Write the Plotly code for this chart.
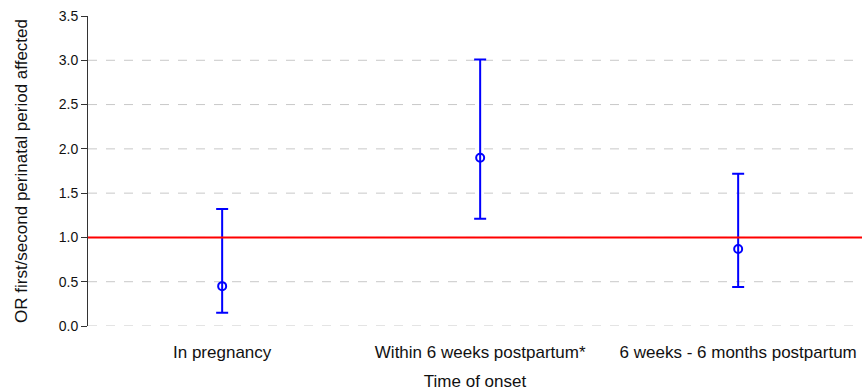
import plotly.graph_objects as go

categories = ["In pregnancy", "Within 6 weeks postpartum*", "6 weeks - 6 months postpartum"]
odds_ratio = [0.45, 1.90, 0.87]
ci_lower = [0.15, 1.21, 0.44]
ci_upper = [1.32, 3.01, 1.72]
y_ticks = [0.0, 0.5, 1.0, 1.5, 2.0, 2.5, 3.0, 3.5]
grid_vals = [0.0, 0.5, 1.0, 1.5, 2.0, 2.5, 3.0]
ref_value = 1.0

x_pos = list(range(len(categories)))
err_plus = [u - m for u, m in zip(ci_upper, odds_ratio)]
err_minus = [m - l for m, l in zip(odds_ratio, ci_lower)]

fig = go.Figure()

for g in grid_vals:
    fig.add_shape(type="line", xref="paper", yref="y", x0=0, x1=1, y0=g, y1=g,
                  line=dict(color="#c8c8c8", width=1, dash="dash"), layer="below")

fig.add_shape(type="line", xref="paper", yref="y", x0=0, x1=1, y0=ref_value, y1=ref_value,
              line=dict(color="#ff0000", width=2), layer="above")

fig.add_trace(go.Scatter(
    x=x_pos, y=odds_ratio, mode="markers",
    marker=dict(symbol="circle-open", size=8, color="#0000ff", line=dict(width=2, color="#0000ff")),
    error_y=dict(type="data", symmetric=False, array=err_plus, arrayminus=err_minus,
                 color="#0000ff", thickness=2, width=6),
    showlegend=False, cliponaxis=False,
))

fig.update_layout(
    width=863, height=391,
    margin=dict(l=88, r=1, t=16, b=65),
    paper_bgcolor="white", plot_bgcolor="white",
    font=dict(family="Liberation Sans, Arial, sans-serif", size=17, color="#111"),
    xaxis=dict(range=[-0.52, 2.48], tickmode="array", tickvals=x_pos, ticktext=categories,
               showgrid=False, zeroline=False, showline=False, automargin=False,
               ticks="outside", ticklen=11, tickcolor="rgba(0,0,0,0)",
               tickfont=dict(size=17),
               title=dict(text="Time of onset", standoff=16, font=dict(size=17))),
    yaxis=dict(range=[0, 3.5], tickmode="array", tickvals=y_ticks,
               ticktext=[f"{v:.1f}" for v in y_ticks],
               showgrid=False, zeroline=False, showline=True, linecolor="#333", linewidth=1,
               automargin=False,
               ticks="outside", ticklen=6, tickcolor="#333",
               tickfont=dict(size=14),
               title=dict(text="OR first/second perinatal period affected", standoff=26, font=dict(size=17))),
)

fig.write_html("out.html", config={"displayModeBar": False},
               post_script="document.body.style.margin='0';document.body.style.padding='0';")
